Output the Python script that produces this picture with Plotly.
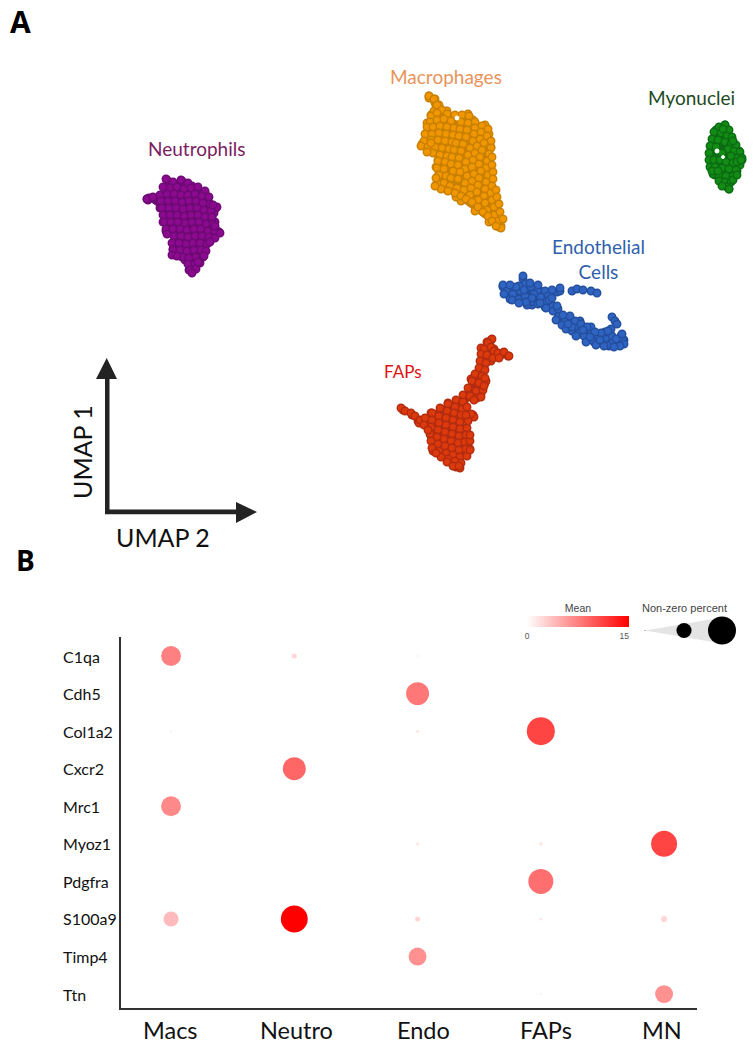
import plotly.graph_objects as go

# ---------- Panel A: UMAP embedding ----------
mac_outline = [(429,96),(435,99),(439,105),(447,111),(455,115),(468,114),(473,120),(485,125),(489,134),(491,147),(491,170),(493,193),(497,210),(501,226),(499,227),(489,222),(475,211),(461,201),(456,197),(447,190),(436,185),(439,173),(436,167),(438,160),(431,148),(422,144),(426,135),(427,123),(431,115),(434,111),(429,98)]
mac_cells = [(429,96),(434,99),(437,105),(442,110),(447,114),(431,116),(437,113),(430,122),(437,120),(444,119),(451,121),(462,115),(469,116),(475,122),(427,127),(433,127),(440,126),(447,127),(454,128),(461,122),(468,123),(475,128),(482,126),
(425,134),(432,134),(439,133),(446,134),(453,135),(460,129),(467,130),(474,134),(481,132),(488,129),(424,141),(431,140),(438,140),(445,141),(452,142),(459,136),(466,137),(473,141),(480,139),(487,136),(491,141),
(421,146),(428,147),(435,147),(442,148),(449,149),(456,143),(463,144),(470,148),(477,146),(484,143),(491,148),(433,153),(440,155),(447,156),(454,150),(461,151),(468,155),(475,153),(482,150),(489,154),
(438,161),(445,162),(452,157),(459,158),(466,162),(473,160),(480,157),(487,161),(492,157),(437,168),(444,169),(451,164),(458,165),(465,169),(472,167),(479,164),(486,168),(492,165),
(439,175),(446,176),(453,171),(460,172),(467,176),(474,174),(481,171),(488,175),(493,172),(437,183),(444,183),(451,178),(458,179),(465,183),(472,181),(479,178),(486,182),(493,179),
(441,189),(450,186),(457,188),(464,190),(471,188),(478,185),(485,189),(492,186),(470,195),(477,192),(484,196),(491,193),(496,190),(478,200),(485,203),(492,200),(497,197),(487,210),(494,207),(499,204),(494,215),(500,212),(498,221),(503,219),(501,228),
(448,191),(455,193),(461,196),(466,199),(472,202),(478,207),(483,212),(488,216),(492,221),(496,226),(436,178),(435,186),(431,143),(427,152)]
mac_gaps = [(457,118)]

neu_outline = [(167,180),(172,184),(182,181),(192,186),(205,193),(210,204),(216,208),(214,213),(215,222),(216,230),(219,232),(210,238),(205,251),(199,260),(194,268),(192,272),(189,270),(185,260),(176,255),(173,249),(175,240),(166,231),(163,222),(160,208),(148,200),(147,199),(149,198),(160,196),(166,187)]
neu_cells = [(166,179),(173,182),(181,180),(188,183),(163,187),(170,188),(177,187),(184,189),(191,188),(198,187),(205,191),(147,199),(153,197),(160,195),(167,194),(174,194),(181,195),(188,195),(195,194),(202,196),(209,197),
(161,201),(168,201),(175,201),(182,202),(189,201),(196,201),(203,203),(210,204),(217,207),(162,208),(169,208),(176,208),(183,209),(190,208),(197,208),(204,210),(211,211),(163,215),(170,215),(177,215),(184,216),(191,215),(198,215),(205,217),(212,217),
(164,222),(171,222),(178,222),(185,223),(192,222),(199,222),(206,224),(213,224),(166,229),(173,229),(180,229),(187,230),(194,229),(201,229),(208,231),(215,231),(220,233),(174,236),(181,236),(188,237),(195,236),(202,236),(209,237),(215,238),
(172,243),(179,243),(186,244),(193,243),(200,243),(207,244),(173,250),(180,250),(187,251),(194,250),(201,250),(206,251),(182,257),(189,258),(196,257),(203,257),(188,264),(195,264),(200,263),(190,270),(196,269),(192,273),
(167,234),(172,255),(177,256),(210,242),(204,256),(198,262),(213,205),(215,226)]

myo_outline = [(725,125),(727,130),(732,142),(739,151),(742,160),(737,171),(730,181),(729,189),(725,182),(715,175),(711,167),(710,155),(713,142),(716,130)]
myo_cells = [(725,125),(719,127),(729,130),(714,132),(721,133),(727,136),(732,137),(712,139),(718,140),(725,142),(731,144),(736,145),(710,146),(716,147),(728,149),(734,151),(740,152),(709,153),(722,153),(731,156),(738,158),(742,158),(709,160),(714,160),(720,160),(726,162),(733,163),(740,165),(710,167),(715,167),(722,168),(729,169),(736,170),(713,174),(719,175),(726,176),(733,176),(719,181),(725,182),(731,182),(727,187),(729,189),
(712,171),(718,171),(722,186),(733,180),(737,175),(737,162),(741,160),(723,129),(733,141)]
myo_gaps = [(717,151),(723,157)]

end_outline = [(503,286),(509,291),(519,289),(523,279),(526,285),(540,291),(557,292),(550,302),(565,320),(581,326),(598,336),(613,341),(621,336),(624,340),(622,342),(609,346),(594,342),(579,334),(562,322),(545,307),(532,305),(521,300),(510,299),(503,287)]
end_cells = [(503,285),(507,291),(513,294),(520,291),(512,300),(519,299),(525,296),(523,276),(525,284),(519,286),(531,287),(538,290),(545,291),(552,290),(560,291),(534,294),(541,297),(548,296),(531,302),(538,304),(546,302),(553,306),(527,305),
(553,311),(559,316),(565,320),(562,325),(570,322),(576,326),(572,331),(579,333),(585,328),(584,336),(591,332),(592,340),(598,336),(600,343),(606,338),(609,345),(613,341),(618,344),(623,340),(622,334),(624,344),(605,332),
(546,308),(556,320),(566,329),(576,336),(586,342),(596,345),(604,346),(549,300),(558,309),(570,316),(580,321),(591,327),(601,333),
(575,321),(581,324),(587,327),(595,332),(590,337),(583,330),(572,327),(568,324),(563,315),(557,306),(552,298),(600,340),(612,336),(616,339),(620,346),(614,347),(538,285),(530,283),(516,287),(510,285),(524,290),(560,288),(540,303),(532,298),(526,302),(519,303),(504,294)]
end_islet = [(572,291),(577,289),(583,290),(591,291),(597,293),(612,317),(615,321),(617,324),(611,329),(608,331)]

fap_outline = [(491,340),(494,349),(503,353),(508,356),(501,355),(491,361),(484,367),(485,383),(481,394),(470,397),(462,417),(467,433),(470,449),(459,466),(448,460),(433,451),(431,436),(418,421),(403,410),(412,415),(419,423),(431,413),(448,403),(464,396),(471,379),(480,369),(481,348),(487,342)]
fap_cells = [(492,339),(488,343),(484,349),(491,347),(494,351),(498,353),(504,352),(509,356),(481,354),(487,355),(493,358),(499,358),(480,361),(486,363),(479,368),(485,370),(475,374),(482,376),(472,381),(479,383),(486,381),(468,388),(476,391),(483,390),(463,395),(470,396),(477,398),
(401,408),(405,411),(411,413),(415,416),(420,420),(456,400),(463,402),(448,404),(455,407),(462,409),(440,408),(447,411),(454,413),(461,415),(432,413),(439,416),(446,418),(453,420),(460,422),(425,418),(432,420),(439,423),(446,425),(453,427),(460,429),(467,428),
(424,425),(431,427),(438,430),(445,432),(452,434),(459,436),(466,435),(430,434),(437,437),(444,439),(451,441),(458,443),(465,442),(470,441),(431,441),(438,444),(445,446),(452,448),(459,450),(466,449),(432,448),(439,451),(446,453),(453,455),(460,457),(467,456),(441,457),(448,459),(455,461),(461,463),(456,467),(460,468),
(473,415),(474,417),(471,414),(467,407),(470,450),(470,435),(468,421),(466,415),(447,462),(453,466),(459,466),(484,386),(485,378),(474,400),(481,397),(436,453),(428,430)]

cluster_names = ["Macrophages", "Neutrophils", "Myonuclei", "Endothelial", "FAPs"]
cluster_outlines = [mac_outline, neu_outline, myo_outline, end_outline, fap_outline]
cluster_cells = [mac_cells, neu_cells, myo_cells, end_cells + end_islet, fap_cells]
cluster_fill = ["#f09600", "#8c0a90", "#128c14", "#2f64c2", "#dc3a0c"]
cluster_edge = ["#c98000", "#6e0a74", "#0c6c14", "#244f9e", "#b32c10"]
gap_cells = mac_gaps + myo_gaps

cluster_labels = ["Macrophages", "Neutrophils", "Myonuclei", "Endothelial<br>Cells", "FAPs"]
label_x = [446, 196, 691, 598.5, 403]
label_y = [76, 148, 97, 258.5, 371]
label_colors = ["#e8945c", "#7b205f", "#1e4a22", "#2f5fac", "#dc1212"]
label_sizes = [19, 19, 19, 19, 17]

arrow_up = [(105,514),(105,379),(96,379),(106.7,358),(117,379),(109.5,379),(109.5,514)]
arrow_right = [(105,509.5),(236,509.5),(236,502),(257,512),(236,523),(236,514.2),(105,514.2)]

# ---------- Panel B: dot plot ----------
genes = ["C1qa", "Cdh5", "Col1a2", "Cxcr2", "Mrc1", "Myoz1", "Pdgfra", "S100a9", "Timp4", "Ttn"]
groups = ["Macs", "Neutro", "Endo", "FAPs", "MN"]
group_label_x = [170, 296, 423, 546, 662]
mean_c1qa   = [7.5, 2.5, 1.0, 0.0, 1.0]
mean_cdh5   = [0.0, 0.0, 8.0, 0.0, 0.0]
mean_col1a2 = [1.0, 0.0, 1.5, 11.0, 0.0]
mean_cxcr2  = [0.0, 9.0, 0.0, 0.0, 0.0]
mean_mrc1   = [7.0, 0.0, 0.0, 0.0, 0.0]
mean_myoz1  = [1.0, 0.0, 1.5, 1.5, 11.0]
mean_pdgfra = [0.0, 0.0, 0.0, 8.5, 0.0]
mean_s100a9 = [4.0, 15.0, 2.5, 1.5, 2.5]
mean_timp4  = [0.0, 0.0, 6.5, 0.0, 0.0]
mean_ttn    = [1.0, 0.0, 1.0, 1.0, 6.5]
pct_c1qa   = [71, 18, 7, 0, 7]
pct_cdh5   = [0, 0, 82, 0, 0]
pct_col1a2 = [7, 0, 11, 100, 0]
pct_cxcr2  = [0, 82, 0, 0, 0]
pct_mrc1   = [71, 0, 0, 0, 0]
pct_myoz1  = [4, 0, 11, 14, 93]
pct_pdgfra = [0, 0, 0, 89, 0]
pct_s100a9 = [54, 96, 18, 11, 21]
pct_timp4  = [0, 0, 64, 0, 0]
pct_ttn    = [4, 0, 4, 7, 64]
mean_rows = [mean_c1qa, mean_cdh5, mean_col1a2, mean_cxcr2, mean_mrc1, mean_myoz1, mean_pdgfra, mean_s100a9, mean_timp4, mean_ttn]
pct_rows = [pct_c1qa, pct_cdh5, pct_col1a2, pct_cxcr2, pct_mrc1, pct_myoz1, pct_pdgfra, pct_s100a9, pct_timp4, pct_ttn]
legend_pct = [3, 54, 100]
legend_x = [645, 684, 722]
legend_y = [630.5, 630.5, 630.5]
wedge = [(645,630.5),(713,619),(713,642)]
SIZEREF = 100 / 28.0

fig = go.Figure()

def xs(p): return [a for a, _ in p]
def ys(p): return [b for _, b in p]

for name, ol, cells, fc, ec in zip(cluster_names, cluster_outlines, cluster_cells, cluster_fill, cluster_edge):
    fig.add_trace(go.Scatter(x=xs(ol), y=ys(ol), mode="lines", fill="toself", fillcolor=ec,
                             line=dict(color=ec, width=1), xaxis="x", yaxis="y",
                             hoverinfo="skip", showlegend=False, name=name))
    all_pts = ol + cells
    fig.add_trace(go.Scatter(x=xs(all_pts), y=ys(all_pts), mode="markers", xaxis="x", yaxis="y", showlegend=False, name=name,
                             marker=dict(size=7.5, color=fc, opacity=1, line=dict(color=ec, width=1.4))))
fig.add_trace(go.Scatter(x=xs(gap_cells), y=ys(gap_cells), mode="markers", xaxis="x", yaxis="y", showlegend=False,
                         marker=dict(size=[4, 4, 3], color="white", opacity=1), hoverinfo="skip"))

for arrow in (arrow_up, arrow_right):
    fig.add_trace(go.Scatter(x=xs(arrow), y=ys(arrow), mode="lines", fill="toself", fillcolor="#232323",
                             line=dict(color="#232323", width=0), xaxis="x", yaxis="y", showlegend=False, hoverinfo="skip"))

# size legend wedge + circles
fig.add_trace(go.Scatter(x=xs(wedge), y=ys(wedge), mode="lines", fill="toself", fillcolor="#e4e4e4",
                         line=dict(color="#e4e4e4", width=0), xaxis="x", yaxis="y", showlegend=False, hoverinfo="skip"))
fig.add_trace(go.Scatter(x=legend_x, y=legend_y, mode="markers", xaxis="x", yaxis="y", showlegend=False,
                         marker=dict(size=legend_pct, sizemode="diameter", sizeref=SIZEREF, color="black", opacity=1, line=dict(width=0))))

# dots
dot_x, dot_y, dot_mean, dot_pct = [], [], [], []
for g, m_row, p_row in zip(genes, mean_rows, pct_rows):
    for grp, m, p in zip(groups, m_row, p_row):
        if p > 0:
            dot_x.append(grp); dot_y.append(g); dot_mean.append(m); dot_pct.append(p)
fig.add_trace(go.Scatter(x=dot_x, y=dot_y, mode="markers", xaxis="x2", yaxis="y2", showlegend=False,
    marker=dict(size=dot_pct, sizemode="diameter", sizeref=SIZEREF, color=dot_mean, cmin=0, cmax=15, opacity=1,
                colorscale=[[0, "#ffffff"], [1, "#ff0000"]], line=dict(width=0),
                colorbar=dict(orientation="h", x=527/756, xanchor="left", y=1-604/1050, yanchor="top",
                              xref="paper", yref="paper",
                              lenmode="pixels", len=102, thicknessmode="pixels", thickness=11,
                              outlinewidth=0, xpad=0, ypad=0, ticks="outside", ticklen=2, tickcolor="white",
                              tickvals=[0, 14.3], ticktext=["0", "15"],
                              tickfont=dict(family="Liberation Sans", size=8.5, color="#555555"),
                              title=dict(text="Mean", side="top", font=dict(family="Liberation Sans", size=10.5, color="#444444"))))))

annotations = []
for t, x, y, c, s in zip(cluster_labels, label_x, label_y, label_colors, label_sizes):
    annotations.append(dict(text=t, x=x, y=y, xref="x", yref="y", showarrow=False, align="center",
                            font=dict(family="Lato", size=s, color=c)))
annotations += [
    dict(text="<b>A</b>", x=20, y=21, xref="x", yref="y", showarrow=False, font=dict(family="Open Sans", size=30, color="black")),
    dict(text="<b>B</b>", x=25, y=560, xref="x", yref="y", showarrow=False, font=dict(family="Open Sans", size=28, color="black")),
    dict(text="UMAP 1", x=82, y=452, xref="x", yref="y", showarrow=False, textangle=-90, font=dict(family="Lato", size=25, color="#111111")),
    dict(text="UMAP 2", x=163, y=537, xref="x", yref="y", showarrow=False, font=dict(family="Lato", size=25, color="#111111")),
    dict(text="Non-zero percent", x=684, y=608, xref="x", yref="y", showarrow=False, font=dict(family="Liberation Sans", size=11, color="#444444")),
]
for g in genes:
    annotations.append(dict(text=g, x=60.5, y=g, xref="x", yref="y2", xanchor="left", showarrow=False,
                            font=dict(family="Lato", size=16, color="#111111")))
for grp, x in zip(groups, group_label_x):
    annotations.append(dict(text=grp, x=x, y=1030, xref="x", yref="y", showarrow=False,
                            font=dict(family="Lato", size=23.5, color="#111111")))

hidden = dict(visible=False, showgrid=False, zeroline=False)
fig.update_layout(
    width=756, height=1050, margin=dict(l=0, r=0, t=0, b=0), paper_bgcolor="white", plot_bgcolor="rgba(0,0,0,0)",
    xaxis=dict(domain=[0, 1], range=[0, 756], **hidden),
    yaxis=dict(domain=[0, 1], range=[1050, 0], **hidden),
    xaxis2=dict(domain=[121/756, 697/756], anchor="y2", type="category", categoryorder="array", categoryarray=groups,
                range=[-0.406, 4.267], showgrid=False, zeroline=False, showline=True, linecolor="#333333", linewidth=1.5,
                ticks="", showticklabels=False),
    yaxis2=dict(domain=[1-1008/1050, 1-637/1050], anchor="x2", type="category", categoryorder="array", categoryarray=genes,
                range=[9.37, -0.507], showgrid=False, zeroline=False, showline=True, linecolor="#333333", linewidth=1.5,
                ticks="", showticklabels=False),
    annotations=annotations,
)
fig.write_html("out.html", config=dict(displayModeBar=False), post_script="document.body.style.margin='0';")
